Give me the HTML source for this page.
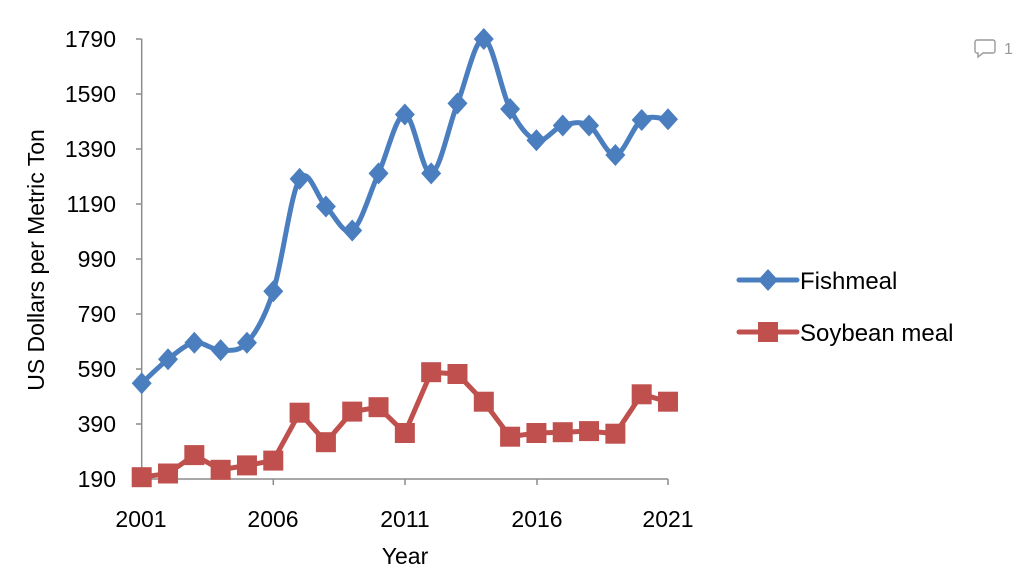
<!DOCTYPE html>
<html><head><meta charset="utf-8"><style>
html,body{margin:0;padding:0;background:#fff;}
svg{display:block;font-family:"Liberation Sans",sans-serif;}
</style></head><body>
<svg id="s" width="1021" height="582" viewBox="0 0 1021 582">
<g fill="#000" font-size="23" text-anchor="end">
<text x="116" y="47">1790</text>
<text x="116" y="102">1590</text>
<text x="116" y="157">1390</text>
<text x="116" y="212">1190</text>
<text x="116" y="267">990</text>
<text x="116" y="322">790</text>
<text x="116" y="377">590</text>
<text x="116" y="432">390</text>
<text x="116" y="487">190</text>
</g>
<g fill="#000" font-size="23" text-anchor="middle">
<text x="141" y="527">2001</text>
<text x="273" y="527">2006</text>
<text x="405" y="527">2011</text>
<text x="537" y="527">2016</text>
<text x="668" y="527">2021</text>
<text x="405" y="564">Year</text>
<text transform="translate(44,260) rotate(-90)">US Dollars per Metric Ton</text>
</g>
<g stroke="#8c8c8c" stroke-width="1.5" fill="none">
<line x1="141.7" y1="39" x2="141.7" y2="479"/>
<line x1="141.7" y1="479" x2="668" y2="479"/>
<path d="M136 39H141.7M136 94H141.7M136 149H141.7M136 204H141.7M136 259H141.7M136 314H141.7M136 369H141.7M136 424H141.7M136 479H141.7"/>
<path d="M141.7 479V485M273.3 479V485M405 479V485M537 479V485M668 479V485"/>
</g>
<g id="series"></g>
<g>
<line x1="739" y1="280" x2="797" y2="280" stroke="#4a7ebf" stroke-width="5" stroke-linecap="round"/>
<path d="M768 269L778 280L768 291L758 280Z" fill="#4a7ebf"/>
<line x1="739" y1="332" x2="797" y2="332" stroke="#c0504d" stroke-width="5" stroke-linecap="round"/>
<rect x="758" y="322" width="20" height="20" fill="#c0504d"/>
<text x="800" y="289" font-size="24" fill="#000">Fishmeal</text>
<text x="800" y="341" font-size="24" fill="#000">Soybean meal</text>
</g>
<g fill="none" stroke="#999" stroke-width="1.4">
<path d="M977 40h16a2 2 0 0 1 2 2v9a2 2 0 0 1-2 2h-10l-5 4v-4h-1a2 2 0 0 1-2-2v-9a2 2 0 0 1 2-2z"/>
</g>
<text x="1004" y="54" font-size="16" fill="#999">1</text>
</svg>
<script>
var fy=[383.3,359.3,342.8,350.1,342.8,291.2,178.9,206.5,230.5,173.4,114.5,173.4,103.4,39,109,140.3,125.5,125.5,155,120,119.3];
var sy=[477.2,473.5,455.1,469.8,465.4,460.6,412.7,442.2,411.6,407.2,433,372.2,374,401.7,436.7,433,432.2,431.1,433.7,394.3,401.7];
function X(i){return 141.7+i*26.315;}
var g=document.getElementById('series'),ns='http://www.w3.org/2000/svg';
function el(t,a){var e=document.createElementNS(ns,t);for(var k in a)e.setAttribute(k,a[k]);g.appendChild(e);return e;}
var d='M'+X(0)+' '+fy[0];
for(var i=0;i<fy.length-1;i++){
 var p0=[X(Math.max(i-1,0)),fy[Math.max(i-1,0)]],p1=[X(i),fy[i]],p2=[X(i+1),fy[i+1]],p3=[X(Math.min(i+2,fy.length-1)),fy[Math.min(i+2,fy.length-1)]];
 var t=1/6;
 d+=' C'+(p1[0]+(p2[0]-p0[0])*t)+' '+(p1[1]+(p2[1]-p0[1])*t)+' '+(p2[0]-(p3[0]-p1[0])*t)+' '+(p2[1]-(p3[1]-p1[1])*t)+' '+p2[0]+' '+p2[1];
}
el('path',{d:d,fill:'none',stroke:'#4a7ebf','stroke-width':5,'stroke-linejoin':'round'});
var ds='M'+sy.map(function(v,i){return X(i)+' '+v;}).join(' L');
el('path',{d:ds,fill:'none',stroke:'#c0504d','stroke-width':5,'stroke-linejoin':'round'});
fy.forEach(function(v,i){var x=X(i);el('path',{d:'M'+x+' '+(v-11)+'L'+(x+10)+' '+v+'L'+x+' '+(v+11)+'L'+(x-10)+' '+v+'Z',fill:'#4a7ebf'});});
sy.forEach(function(v,i){var x=X(i);el('rect',{x:x-10,y:v-10,width:20,height:20,fill:'#c0504d'});});
</script>
</body></html>
